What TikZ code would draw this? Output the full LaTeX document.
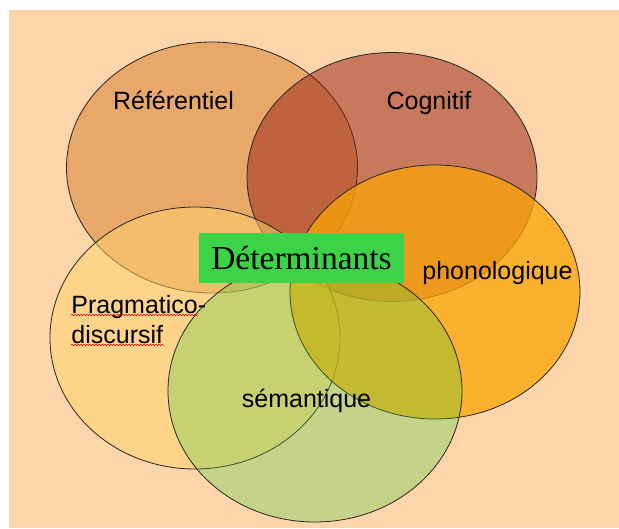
\documentclass[tikz,border=0pt]{standalone}
\usepackage{fontspec}
\setmainfont{Liberation Sans}
\newfontfamily\serifbox{Liberation Serif}
\usetikzlibrary{shapes.geometric, decorations.pathmorphing}

\definecolor{peche}{RGB}{253,213,170}
\definecolor{refcol}{RGB}{213,125,44}
\definecolor{cogcol}{RGB}{149,31,18}
\definecolor{pragcol}{RGB}{255,211,108}
\definecolor{phonocol}{RGB}{251,165,5}
\definecolor{semcol}{RGB}{73,206,60}
\definecolor{boxvert}{RGB}{60,211,72}

\begin{document}
\begin{tikzpicture}[x=1pt, y=-1pt, line width=0.8pt,
        bulle/.style={ellipse, draw=black!85, inner sep=0pt},
        etiquette/.style={font=\fontsize{25}{30}\selectfont, inner sep=0pt},
        squiggle/.style={draw=red!85!black, line width=0.5pt, decorate,
            decoration={snake, amplitude=0.8pt, segment length=3pt}}]

    \useasboundingbox (0,0) rectangle (619,528);
    \fill[peche] (9,10) rectangle (619,528);

    % Ellipses
    \node[bulle, fill=refcol, fill opacity=0.5, minimum width=291pt, minimum height=251pt] (ref) at (212,167.5) {};
    \node[bulle, fill=cogcol, fill opacity=0.5, minimum width=290pt, minimum height=249pt] (cog) at (392,177) {};
    \node[bulle, fill=pragcol, fill opacity=0.5, minimum width=290pt, minimum height=262pt] (prag) at (195,338) {};
    \node[bulle, fill=phonocol, fill opacity=0.75, minimum width=290pt, minimum height=254pt] (phono) at (435,292) {};
    \node[bulle, fill=semcol, fill opacity=0.3, minimum width=294pt, minimum height=262pt] (sem) at (315,391) {};

    % Etiquettes
    \node[etiquette, anchor=base] (lref) at (173.5,109) {Référentiel};
    \node[etiquette, anchor=base] (lcog) at (429,109) {Cognitif};
    \node[etiquette, anchor=base] (lphono) at (497.5,279) {phonologique};
    \node[etiquette, anchor=base west] (lprag1) at (71,313) {Pragmatico-};
    \node[etiquette, anchor=base west] (lprag2) at (71,343) {discursif};
    \node[etiquette, anchor=base] (lsem) at (306.5,407) {sémantique};

    \draw[squiggle] ([yshift=-2pt]lprag1.base west) -- ++(127,0);
    \draw[squiggle] ([yshift=-2pt]lprag2.base west) -- ++(93,0);

    % Titre
    \node[fill=boxvert, minimum width=205pt, minimum height=50pt, inner sep=0pt,
        font=\serifbox\fontsize{33.5}{38}\selectfont] (det) at (301.5,258) {Déterminants};
\end{tikzpicture}
\end{document}
